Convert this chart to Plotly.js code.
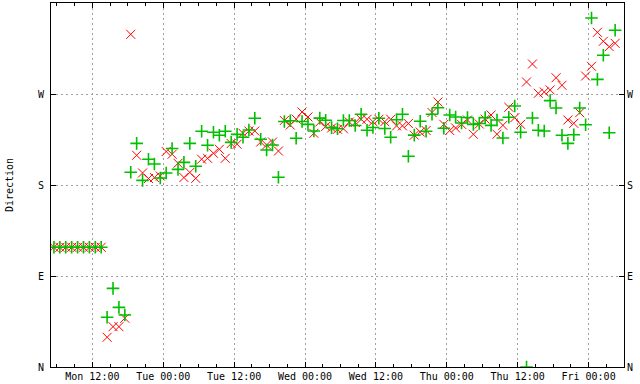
<!DOCTYPE html>
<html><head><meta charset="utf-8">
<script src="https://cdn.plot.ly/plotly-3.0.1.min.js"></script>
<style>html,body{margin:0;padding:0;background:#fff}#chart{width:640px;height:384px}</style>
</head><body><div id="chart"></div>
<script>
// hourly samples (day of Jan 2024 + time)
const times = [
"01 05:30","01 06:30","01 07:30","01 08:30","01 09:30","01 10:30","01 11:30","01 12:30","01 13:30","01 14:30",
"01 15:30","01 16:30","01 17:30","01 18:30","01 19:30","01 20:30","01 21:30","01 22:30","01 23:30",
"02 00:30","02 01:30","02 02:30","02 03:30","02 04:30","02 05:30","02 06:30","02 07:30","02 08:30","02 09:30","02 10:30","02 11:30",
"02 12:30","02 13:30","02 14:30","02 15:30","02 16:30","02 17:30","02 18:30","02 19:30","02 20:30","02 21:30","02 22:30","02 23:30",
"03 00:30","03 01:30","03 02:30","03 03:30","03 04:30","03 05:30","03 06:30","03 07:30","03 08:30","03 09:30","03 10:30","03 11:30",
"03 12:30","03 13:30","03 14:30","03 15:30","03 16:30","03 17:30","03 18:30","03 19:30","03 20:30","03 21:30","03 22:30","03 23:30",
"04 00:30","04 01:30","04 02:30","04 03:30","04 04:30","04 05:30","04 06:30","04 07:30","04 08:30","04 09:30","04 10:30","04 11:30",
"04 12:30","04 13:30","04 14:30","04 15:30","04 16:30","04 17:30","04 18:30","04 19:30","04 20:30","04 21:30","04 22:30","04 23:30",
"05 00:30","05 01:30","05 02:30","05 03:30","05 04:30"];

// wind direction (degrees), red x
const dirRed = [
118.4,118.4,118.4,118.4,118.4,118.4,118.4,118.4,118.4,
29.4,39.9,39.9,48.2,329.0,209.4,191.9,186.4,187.4,188.9,
213.1,210.4,201.5,187.4,192.4,186.6,205.5,206.4,211.4,215.3,206.4,221.0,
220.3,231.1,233.4,233.4,222.5,219.6,222.5,213.6,243.8,239.3,245.1,252.2,
247.3,231.1,242.3,237.9,236.4,235.1,235.6,242.3,241.8,245.0,245.0,242.6,
245.0,242.6,245.0,238.5,238.5,240.8,229.3,232.4,233.9,251.7,262.1,240.0,
233.9,236.4,240.0,244.3,230.2,240.3,245.1,249.2,230.2,239.0,256.9,246.5,
240.0,281.9,299.7,270.7,272.0,274.0,286.1,278.6,244.3,241.0,251.5,287.8,
297.4,331.0,322.1,316.8,320.1];

// gust direction (degrees), green +
const dirGreen = [
118.4,118.4,118.4,118.4,118.4,118.4,118.4,118.4,118.4,
49.2,77.8,59.0,51.4,192.6,221.2,184.6,205.4,200.8,186.9,
191.9,216.1,195.5,202.4,221.2,198.6,233.1,219.3,232.1,229.2,233.1,222.2,
230.1,227.2,234.4,246.0,225.2,214.6,219.6,187.6,242.8,243.6,226.2,242.8,
240.0,233.4,246.1,244.1,236.7,235.7,243.8,243.8,238.8,249.9,234.1,236.9,
246.0,235.9,227.2,244.5,249.9,208.4,229.3,243.1,233.2,249.9,256.4,236.1,
249.2,247.3,241.3,246.8,240.0,240.8,246.6,239.0,244.3,226.5,247.0,258.1,
232.1,0,246.3,234.1,233.4,263.4,256.2,229.2,221.2,229.7,256.2,239.6,
345.2,284.5,308.3,231.7,333.0];

const compassVals = [0, 90, 180, 270, 360];
const compassText = ["N", "E", "S", "W", "N"];

const x = times.map(s => "2024-01-" + s);
const font = {family: "DejaVu Sans Mono, monospace", size: 10, color: "#000"};

const traces = [
  {x: x, y: dirRed, type: "scatter", mode: "markers", cliponaxis: true,
   marker: {symbol: "x-thin", size: 9, line: {color: "#ff0000", width: 1}}, hoverinfo: "skip"},
  {x: x, y: dirGreen, type: "scatter", mode: "markers", cliponaxis: true,
   marker: {symbol: "cross-thin", size: 9, line: {color: "#00c000", width: 1.6}}, hoverinfo: "skip"},
  {x: [x[0]], y: [0], yaxis: "y2", type: "scatter", mode: "markers",
   marker: {opacity: 0}, hoverinfo: "skip"}
];

const layout = {
  width: 640, height: 384,
  margin: {l: 51, r: 16, t: 3, b: 17, pad: 0},
  paper_bgcolor: "#fff", plot_bgcolor: "#fff",
  showlegend: false,
  font: font,
  xaxis: {
    type: "date",
    range: ["2024-01-01 05:00", "2024-01-05 06:00"],
    tick0: "2024-01-01 00:00", dtick: 12 * 3600000,
    tickformat: "%a %H:%M",
    ticks: "inside", ticklen: 5, tickcolor: "#000", tickwidth: 1,
    showline: true, linecolor: "#000", linewidth: 1, mirror: "ticks",
    showgrid: true, gridcolor: "#a0a0a0", griddash: "2px,3px", gridwidth: 1,
    zeroline: false, tickfont: font,
    minor: {dtick: 3 * 3600000, ticks: "inside", ticklen: 3, tickcolor: "#000", showgrid: false}
  },
  yaxis: {
    range: [0, 360], tickvals: compassVals, ticktext: compassText,
    ticks: "inside", ticklen: 5, tickcolor: "#000",
    showline: true, linecolor: "#000", linewidth: 1, mirror: "ticks",
    showgrid: true, gridcolor: "#a0a0a0", griddash: "2px,3px", gridwidth: 1,
    zeroline: false, tickfont: font, ticklabelstandoff: 4,
    title: {text: "Direction", font: font, standoff: 22}
  },
  yaxis2: {
    overlaying: "y", side: "right",
    range: [0, 360], tickvals: compassVals, ticktext: compassText,
    ticks: "", showline: false, showgrid: false, zeroline: false,
    tickfont: font, ticklabelstandoff: 2
  }
};

Plotly.newPlot("chart", traces, layout, {staticPlot: true, displayModeBar: false});
</script>
</body></html>
